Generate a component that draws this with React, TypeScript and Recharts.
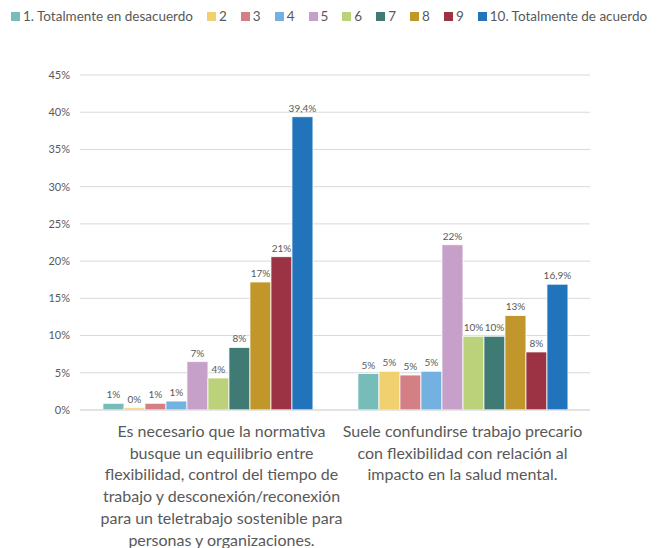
import React from "react";
import { BarChart, Bar, XAxis, YAxis, CartesianGrid, Legend, LabelList } from "recharts";

const categories = [
  "Es necesario que la normativa busque un equilibrio entre flexibilidad, control del tiempo de trabajo y desconexión/reconexión para un teletrabajo sostenible para personas y organizaciones.",
  "Suele confundirse trabajo precario con flexibilidad con relación al impacto en la salud mental.",
];
const seriesNames = [
  "1. Totalmente en desacuerdo", "2", "3", "4", "5", "6", "7", "8", "9", "10. Totalmente de acuerdo",
];
const colors = [
  "#76bcb8", "#f1d070", "#d47f84", "#73b1e0", "#c6a0c9", "#bbd27a", "#3f7a75", "#c1972b", "#9b3344", "#2174bc",
];
const valuesNormativa = [0.9, 0.3, 0.9, 1.2, 6.5, 4.3, 8.4, 17.2, 20.6, 39.4];
const valuesPrecario = [4.9, 5.2, 4.7, 5.2, 22.2, 9.9, 9.9, 12.7, 7.8, 16.9];
const labelsNormativa = ["1%", "0%", "1%", "1%", "7%", "4%", "8%", "17%", "21%", "39,4%"];
const labelsPrecario = ["5%", "5%", "5%", "5%", "22%", "10%", "10%", "13%", "8%", "16,9%"];
const yTicks = [0, 5, 10, 15, 20, 25, 30, 35, 40, 45];

const allValues = [valuesNormativa, valuesPrecario];
const allLabels = [labelsNormativa, labelsPrecario];

const data = categories.map((c, i) => {
  const row: Record<string, any> = { name: c };
  seriesNames.forEach((_, j) => {
    row["s" + j] = allValues[i][j];
    row["l" + j] = allLabels[i][j];
  });
  return row;
});

const FONT = "Lato, 'Noto Sans', sans-serif";
const GREY = "#595959";

function wrap(text: string, max: number): string[] {
  const words = text.split(" ");
  const lines: string[] = [];
  let cur = "";
  for (const w of words) {
    const next = cur ? cur + " " + w : w;
    if (next.length > max && cur) {
      lines.push(cur);
      cur = w;
    } else cur = next;
  }
  if (cur) lines.push(cur);
  return lines;
}

const XTick = (props: any) => {
  const { x, y, payload, index } = props;
  const lines = wrap(payload.value, 35);
  const shift = index === 0 ? 14 : 0;
  return (
    <text x={x + shift} y={y} textAnchor="middle" fill={GREY} fontSize={16} fontFamily={FONT}>
      {lines.map((l, i) => (
        <tspan key={i} x={x + shift} dy={i === 0 ? 19 : 21.7}>
          {l}
        </tspan>
      ))}
    </text>
  );
};

const LegendContent = () => (
  <div
    style={{
      display: "flex",
      justifyContent: "center",
      alignItems: "center",
      fontFamily: FONT,
      fontSize: 13.5,
      color: GREY,
      whiteSpace: "nowrap",
      height: 20,
    }}
  >
    {seriesNames.map((n, j) => (
      <div key={n} style={{ display: "flex", alignItems: "center", marginRight: j < seriesNames.length - 1 ? 14 : 0 }}>
        <span style={{ display: "inline-block", width: 9, height: 9, background: colors[j], marginRight: 3 }} />
        <span>{n}</span>
      </div>
    ))}
  </div>
);

export default function App() {
  return (
    <div style={{ position: "absolute", left: 0, top: 0, width: 658, height: 548, background: "#fff" }}>
      <BarChart
        width={658}
        height={548}
        data={data}
        margin={{ top: 55, right: 68, left: 0, bottom: 8 }}
        barGap={0}
        barCategoryGap="9%"
      >
        <CartesianGrid vertical={false} stroke="#d9d9d9" />
        <XAxis
          dataKey="name"
          tick={<XTick />}
          tickLine={false}
          axisLine={{ stroke: "#d9d9d9" }}
          height={130}
          interval={0}
        />
        <YAxis
          domain={[0, 45]}
          ticks={yTicks}
          tickFormatter={(v: number) => `${v}%`}
          tickLine={false}
          axisLine={false}
          width={80}
          tick={{ fill: GREY, fontSize: 11, fontFamily: FONT }}
          tickMargin={4}
        />
        <Legend
          verticalAlign="top"
          align="center"
          content={<LegendContent />}
          wrapperStyle={{ top: 6, left: 0, width: 658 }}
        />
        {seriesNames.map((n, j) => (
          <Bar
            key={n}
            dataKey={"s" + j}
            name={n}
            fill={colors[j]}
            stroke="#ffffff"
            strokeWidth={0.8}
            isAnimationActive={false}
          >
            <LabelList dataKey={"l" + j} position="top" fill={GREY} fontSize={10} fontFamily={FONT} offset={5} />
          </Bar>
        ))}
      </BarChart>
    </div>
  );
}
